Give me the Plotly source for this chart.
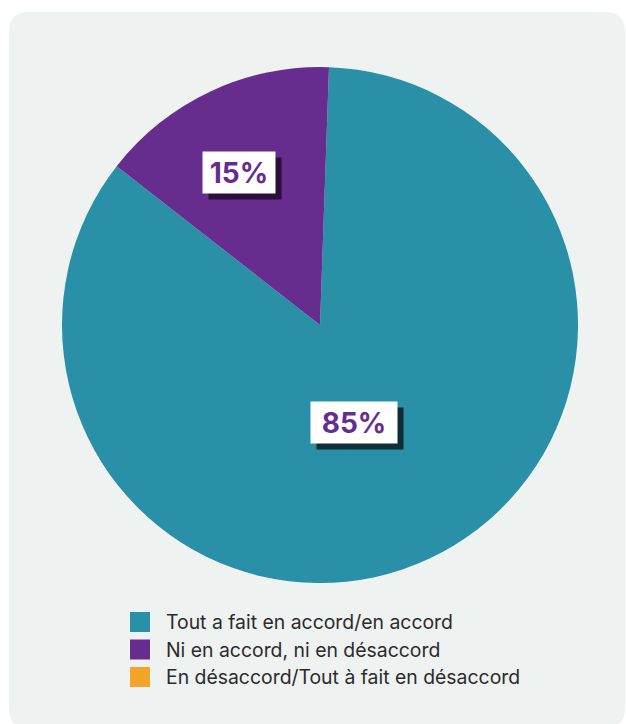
import math
import plotly.graph_objects as go

# ---- data ----
categories = ["Tout a fait en accord/en accord",
              "Ni en accord, ni en désaccord",
              "En désaccord/Tout à fait en désaccord"]
values = [85, 15, 0]
value_labels = ["85%", "15%", ""]

# ---- style ----
colors = ["#2990a7", "#662d8e", "#f2a529"]
shadow_colors = ["#0e2f38", "#2a0f3a", "#000000"]
label_radius = [0.40, 0.67, 0.5]
label_angle_tweak = [6, -3, 0]
box_widths = [86, 72, 0]
W, H = 626, 724
CX, CY, R = 320, 325, 258
ROT = 2

def px(x):
    return x / W

def py(y):
    return 1 - y / H

fig = go.Figure()
fig.add_trace(go.Pie(
    labels=categories, values=values, sort=False, direction="clockwise",
    rotation=ROT, marker=dict(colors=colors, line=dict(width=0)),
    textinfo="none", hoverinfo="label+percent", showlegend=False,
    domain=dict(x=[px(CX - R), px(CX + R)], y=[py(CY + R), py(CY - R)]),
))

# background rounded panel
x0, y0, x1, y1, rr = 9, 12, 625, 728, 20
path = (f"M {px(x0 + rr)},{py(y0)} L {px(x1 - rr)},{py(y0)} "
        f"Q {px(x1)},{py(y0)} {px(x1)},{py(y0 + rr)} "
        f"L {px(x1)},{py(y1 - rr)} Q {px(x1)},{py(y1)} {px(x1 - rr)},{py(y1)} "
        f"L {px(x0 + rr)},{py(y1)} Q {px(x0)},{py(y1)} {px(x0)},{py(y1 - rr)} "
        f"L {px(x0)},{py(y0 + rr)} Q {px(x0)},{py(y0)} {px(x0 + rr)},{py(y0)} Z")
shapes = [dict(type="path", xref="paper", yref="paper", path=path,
               fillcolor="#eef2f1", line=dict(width=0), layer="below")]

annotations = []
total = sum(values)
start = ROT
for i, v in enumerate(values):
    span = 360 * v / total
    mid = start + span / 2 + label_angle_tweak[i]
    start += span
    if v == 0:
        continue
    rad = math.radians(mid)
    lx = CX + label_radius[i] * R * math.sin(rad)
    ly = CY - label_radius[i] * R * math.cos(rad)
    common = dict(xref="paper", yref="paper", x=px(lx), y=py(ly),
                  showarrow=False, width=box_widths[i], height=41,
                  borderpad=0, xanchor="center", yanchor="middle")
    annotations.append(dict(common, text="&nbsp;", bgcolor=shadow_colors[i],
                            font=dict(color=shadow_colors[i], size=10),
                            xshift=6, yshift=-6))
    annotations.append(dict(common, text=f"<b>{value_labels[i]}</b>", bgcolor="#ffffff",
                            font=dict(color="#662d8e", size=28, family="Inter")))

# custom legend
for i, name in enumerate(categories):
    yc = 622 + i * 27.5
    shapes.append(dict(type="rect", xref="paper", yref="paper",
                       x0=px(130), x1=px(150), y0=py(yc + 10), y1=py(yc - 10),
                       fillcolor=colors[i], line=dict(width=0)))
    annotations.append(dict(xref="paper", yref="paper", x=px(164), y=py(yc),
                            text=name, showarrow=False, xanchor="left", yanchor="middle",
                            font=dict(size=19.4, color="#2b2b2b", family="Inter")))

fig.update_layout(width=W, height=H, margin=dict(l=0, r=0, t=0, b=0),
                  paper_bgcolor="#ffffff", shapes=shapes, annotations=annotations)
fig.write_html("out.html")
